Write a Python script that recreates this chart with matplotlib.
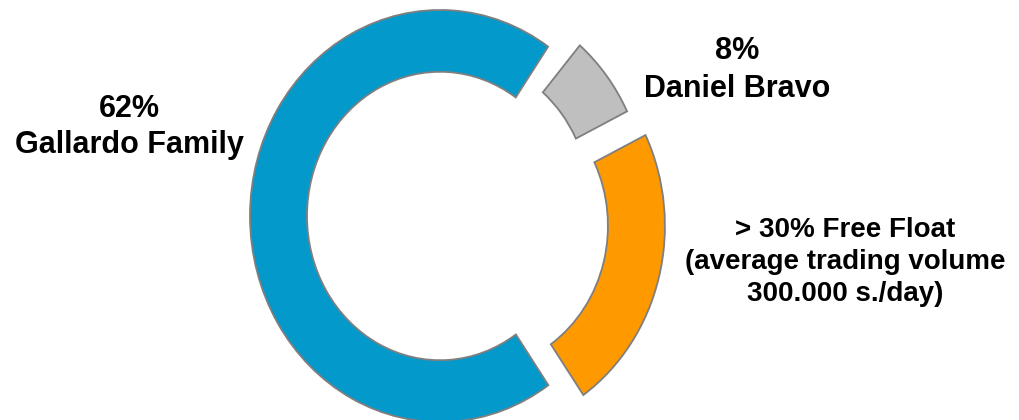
import matplotlib.pyplot as plt

# shares as drawn (fraction of the full circle), labels as printed
segments = ["Gallardo Family", "Free Float", "Daniel Bravo"]
shares = [0.693, 0.226, 0.065]
label_texts = ["62%\nGallardo Family",
               "> 30% Free Float\n(average trading volume\n300.000 s./day)",
               "8%\nDaniel Bravo"]
colors = ["#0399CB", "#FF9900", "#BFBFBF"]
explode = [0.0, 0.19, 0.11]

plt.rcParams['font.family'] = ['Liberation Sans', 'DejaVu Sans']

fig = plt.figure(figsize=(10.2, 4.2), dpi=100)
ax = fig.add_axes([0, 0, 1, 1])

ax.pie(shares, colors=colors, explode=explode, startangle=55.3,
       normalize=False, counterclock=True,
       wedgeprops=dict(width=0.3, edgecolor="#7F7F7F", linewidth=1.3))

# ring centre at pixel (440, 216), radii 190 px across, 206 px up
ax.set_aspect('auto')
ax.set_xlim((0 - 440) / 190, (1020 - 440) / 190)
ax.set_ylim(-(420 - 216) / 206, 216 / 206)
ax.axis('off')

# label blocks: pixel centre x, y, font size, line spacing
label_pos = [(129, 127, 22, 1.23), (845, 262, 20, 1.29), (737, 70, 22, 1.33)]
for txt, (px, py, fs, ls) in zip(label_texts, label_pos):
    fig.text(px / 1020, 1 - py / 420, txt, ha='center', va='center',
             fontsize=fs, fontweight='bold', linespacing=ls, color='black')

fig.savefig("out.png", dpi=100)
